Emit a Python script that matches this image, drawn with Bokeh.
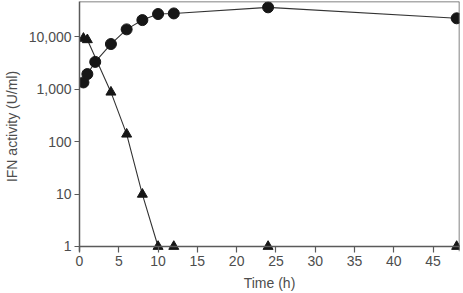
from bokeh.plotting import figure
from bokeh.models import FixedTicker, Range1d, Span
from bokeh.embed import file_html
from bokeh.resources import INLINE

# Data
circle_time = [0.5, 1, 2, 4, 6, 8, 10, 12, 24, 48]
circle_ifn = [1350, 1950, 3330, 7300, 13900, 20900, 27300, 28000, 36600, 22600]

triangle_time = [0.5, 1, 4, 6, 8, 10, 12, 24, 48]
triangle_ifn = [9350, 8800, 880, 139, 9.9, 1, 1, 1, 1]

x_ticks = [0, 5, 10, 15, 20, 25, 30, 35, 40, 45]
y_ticks = [1, 10, 100, 1000, 10000]
y_tick_labels = {1: "1", 10: "10", 100: "100", 1000: "1,000", 10000: "10,000"}

X_END = 48.36
Y_START = 0.802
Y_END = 47300

FONT = "Liberation Sans"
GREY = "#4d4d4d"
EDGE = "#5a5a5a"

p = figure(width=462, height=293, y_axis_type="log",
           x_range=Range1d(0, X_END), y_range=Range1d(Y_START, Y_END),
           output_backend="svg", toolbar_location=None,
           min_border_left=76, min_border_right=3, min_border_top=1, min_border_bottom=42)

p.grid.visible = False
p.outline_line_color = None
p.background_fill_color = "white"
p.border_fill_color = "white"

# frame edges: bottom at value 1, top and right at range ends
p.add_layout(Span(location=1, dimension="width", line_color=EDGE, line_width=1.5))
p.add_layout(Span(location=Y_END, dimension="width", line_color=EDGE, line_width=1.5))
p.add_layout(Span(location=X_END, dimension="height", line_color=EDGE, line_width=1.5))

p.line(circle_time, circle_ifn, line_color="#333333", line_width=1.1)
p.line(triangle_time, triangle_ifn, line_color="#333333", line_width=1.1)
p.scatter(circle_time, circle_ifn, marker="circle", size=11,
          fill_color="#161616", line_color="#161616")
p.scatter(triangle_time, triangle_ifn, marker="triangle", size=10,
          fill_color="#161616", line_color="#161616")

p.xaxis.ticker = FixedTicker(ticks=x_ticks)
p.yaxis.ticker = FixedTicker(ticks=y_ticks)
p.yaxis.major_label_overrides = y_tick_labels
p.xaxis.minor_tick_line_color = None
p.yaxis.minor_tick_line_color = None

for ax in (p.xaxis, p.yaxis):
    ax.axis_line_color = EDGE
    ax.axis_line_width = 1.5
    ax.major_tick_line_color = EDGE
    ax.major_tick_line_width = 1.2
    ax.major_tick_out = 5
    ax.major_tick_in = 0
    ax.major_label_text_font = FONT
    ax.major_label_text_font_size = "14px"
    ax.major_label_text_color = GREY
    ax.axis_label_text_font = FONT
    ax.axis_label_text_font_size = "14px"
    ax.axis_label_text_font_style = "normal"
    ax.axis_label_text_color = GREY
    ax.major_label_standoff = 3

p.xaxis.axis_line_color = None
p.xaxis.major_tick_in = 5
p.xaxis.major_tick_out = 1
p.xaxis.axis_label_standoff = 6
p.yaxis.axis_label_standoff = 6

p.xaxis.axis_label = "Time (h)"
p.yaxis.axis_label = "IFN activity (U/ml)"

open("out.html", "w").write(file_html(p, INLINE))
